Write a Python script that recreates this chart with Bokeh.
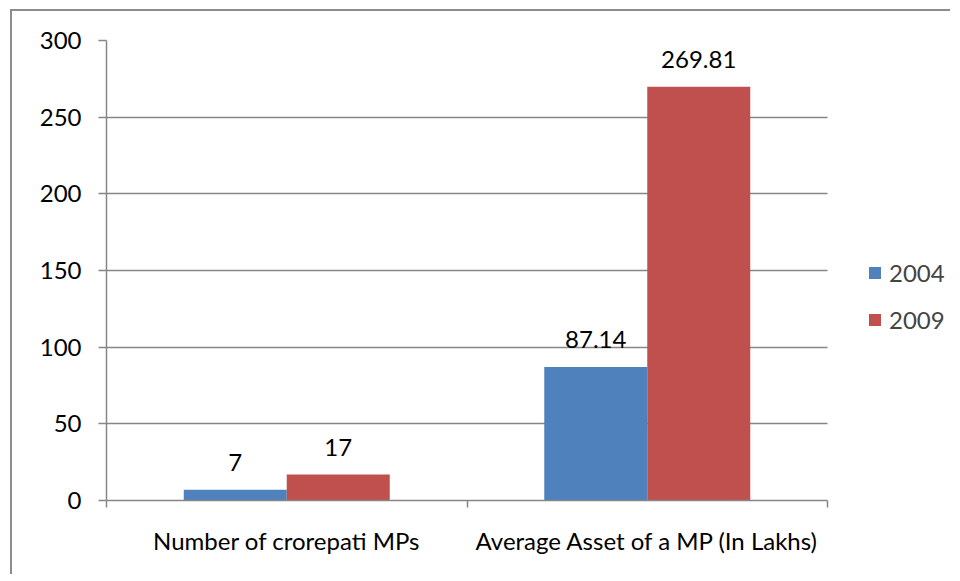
from bokeh.plotting import figure
from bokeh.models import (Range1d, FixedTicker, ColumnDataSource, LabelSet, Legend, LegendItem)
from bokeh.embed import file_html
from bokeh.resources import INLINE
from bokeh.core.properties import value

categories = ["Number of crorepati MPs", "Average Asset of a MP (In Lakhs)"]
series_names = ["2004", "2009"]
values_2004 = [7, 87.14]
values_2009 = [17, 269.81]
label_2004 = ["7", "87.14"]
label_2009 = ["17", "269.81"]
y_ticks = [0, 50, 100, 150, 200, 250, 300]

FONT = "Lato"
FS = "24px"
GRID = "#868686"
BLUE = "#4F81BD"
RED = "#C0504D"

n = len(categories)
bar_w = 1 / 3.5
centers = [i + 0.5 for i in range(n)]

W, H = 940, 565
BL, BR, BT, BB = 94, 4, 29, 76
frame_w = W - BL - BR
plot_w = 721  # width in px occupied by the categories
x_end = n * frame_w / plot_w

p = figure(width=W, height=H, output_backend="svg", toolbar_location=None,
           x_range=Range1d(0, x_end), y_range=Range1d(0, 300),
           min_border_left=BL, min_border_right=BR, min_border_top=BT, min_border_bottom=BB)
p.styles = {"border-left": "2px solid #8c8c8c", "border-top": "2px solid #8c8c8c",
            "margin-left": "10px", "margin-top": "9px"}
p.outline_line_color = None
p.background_fill_color = "white"

src1 = ColumnDataSource(dict(x=[c - bar_w / 2 for c in centers], top=values_2004, lab=label_2004))
src2 = ColumnDataSource(dict(x=[c + bar_w / 2 for c in centers], top=values_2009, lab=label_2009))

r1 = p.vbar(x="x", top="top", width=bar_w, source=src1, fill_color=BLUE, line_color=None)
r2 = p.vbar(x="x", top="top", width=bar_w, source=src2, fill_color=RED, line_color=None)

for s in (src1, src2):
    p.add_layout(LabelSet(x="x", y="top", text="lab", source=s, text_align="center",
                          text_baseline="middle", y_offset=27, text_font=value(FONT),
                          text_font_size=FS, text_color="black"))

# y axis
p.yaxis.ticker = FixedTicker(ticks=y_ticks)
p.yaxis.axis_line_color = GRID
p.yaxis.axis_line_width = 1.5
p.yaxis.major_tick_line_color = GRID
p.yaxis.major_tick_line_width = 1.5
p.yaxis.major_tick_out = 8
p.yaxis.major_tick_in = 0
p.yaxis.minor_tick_line_color = None
p.yaxis.major_label_text_font = FONT
p.yaxis.major_label_text_font_size = FS
p.yaxis.major_label_text_color = "black"
p.yaxis.major_label_standoff = 17

# x axis: labels at centres, ticks at category boundaries
p.xaxis.ticker = FixedTicker(ticks=centers, minor_ticks=list(range(n + 1)))
p.xaxis.major_label_overrides = {c: categories[i] for i, c in enumerate(centers)}
p.xaxis.bounds = (0, n)
p.xaxis.axis_line_color = GRID
p.xaxis.axis_line_width = 1.5
p.xaxis.major_tick_line_color = None
p.xaxis.major_tick_out = 0
p.xaxis.major_tick_in = 0
p.xaxis.minor_tick_line_color = GRID
p.xaxis.minor_tick_line_width = 1.5
p.xaxis.minor_tick_out = 7
p.xaxis.minor_tick_in = 0
p.xaxis.major_label_text_font = FONT
p.xaxis.major_label_text_font_size = FS
p.xaxis.major_label_text_color = "black"
p.xaxis.major_label_standoff = 18

p.xgrid.grid_line_color = None
p.ygrid.ticker = FixedTicker(ticks=y_ticks)
p.ygrid.cross_bounds = (0, n)
p.ygrid.grid_line_color = GRID
p.ygrid.grid_line_width = 1.5

legend = Legend(items=[LegendItem(label=series_names[0], renderers=[r1]),
                       LegendItem(label=series_names[1], renderers=[r2])],
                location=(761, 166), padding=0, margin=0, spacing=18,
                glyph_width=15, glyph_height=15, label_standoff=7,
                label_text_font=FONT, label_text_font_size=FS,
                border_line_color=None, background_fill_alpha=0)
p.add_layout(legend)

open("out.html", "w").write(file_html(p, INLINE))
